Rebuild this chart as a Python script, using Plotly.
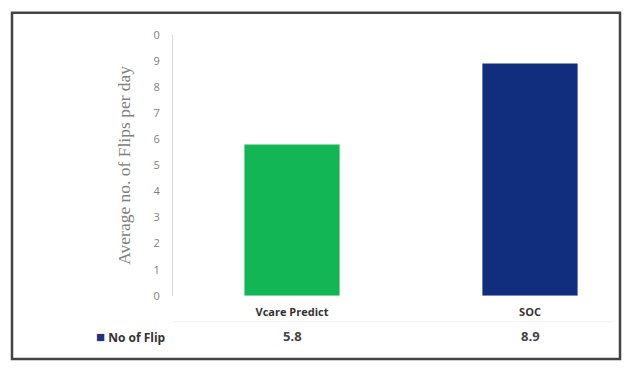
import plotly.graph_objects as go

categories = ["Vcare Predict", "SOC"]
values = [5.8, 8.9]
value_labels = ["5.8", "8.9"]
series_name = "No of Flip"
y_tick_vals = [0, 1, 2, 3, 4, 5, 6, 7, 8, 9, 10]
y_tick_text = ["0", "1", "2", "3", "4", "5", "6", "7", "8", "9", "0"]
bar_colors = ["#13b655", "#112d7e"]

W, H = 629, 369
x0_px, x1_px = 173, 612
ybot_px, ytop_px = 300, 28

fig = go.Figure()
fig.add_trace(go.Bar(
    x=[0, 1], y=values, width=0.4,
    marker=dict(color=bar_colors, line=dict(width=0)),
    name=series_name, showlegend=False,
))

fig.update_layout(
    width=W, height=H,
    margin=dict(l=0, r=0, t=0, b=0),
    paper_bgcolor="white", plot_bgcolor="white",
    xaxis=dict(
        domain=[x0_px / W, x1_px / W],
        range=[-0.5, -0.5 + (x1_px - x0_px) / 238],
        tickvals=[0, 1],
        ticktext=["<b>%s</b>" % c for c in categories],
        tickfont=dict(family="Open Sans", size=11, color="#333333"),
        showline=False, showgrid=False, ticks="", zeroline=False,
        ticklabelstandoff=8,
    ),
    yaxis=dict(
        domain=[1 - ybot_px / H, 1 - ytop_px / H],
        range=[0, 10],
        tickvals=y_tick_vals, ticktext=y_tick_text,
        tickfont=dict(family="Open Sans", size=11, color="#808080"),
        showline=True, linecolor="#d9d9d9", linewidth=1,
        showgrid=False, zeroline=False, ticks="",
        ticklabelstandoff=10,
        title=dict(text="Average no. of Flips per day",
                   font=dict(family="Liberation Serif", size=17.5, color="#808080"),
                   standoff=18),
    ),
    shapes=[
        dict(type="rect", xref="paper", yref="paper",
             x0=12 / W, x1=620 / W, y0=1 - 366 / H, y1=1 - 5 / H,
             line=dict(color="#444444", width=2.5)),
        dict(type="line", xref="paper", yref="paper",
             x0=x0_px / W, x1=x1_px / W, y0=1 - 327 / H, y1=1 - 327 / H,
             line=dict(color="#f2f2f2", width=1)),
    ],
)

for i, lab in enumerate(value_labels):
    fig.add_annotation(x=i, xref="x", y=1 - 342 / H, yref="paper",
                       yanchor="middle",
                       text="<b>%s</b>" % lab, showarrow=False,
                       font=dict(family="Open Sans", size=13, color="#444444"))

fig.add_annotation(x=94 / W, xref="paper", y=1 - 342 / H, yref="paper",
                   xanchor="left", yanchor="middle",
                   text="<span style='color:#1f3377;font-size:15px'>■</span> <b>%s</b>" % series_name,
                   showarrow=False,
                   font=dict(family="Open Sans", size=12, color="#333333"))

fig.write_html("out.html")
